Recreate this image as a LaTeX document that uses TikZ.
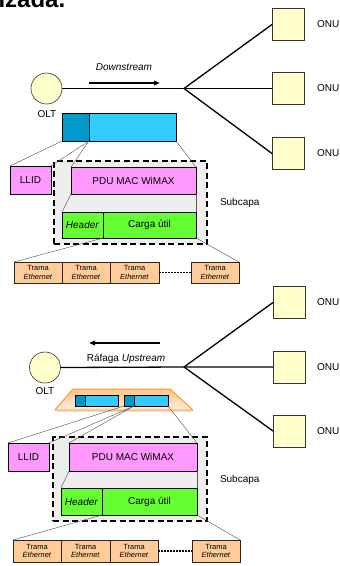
\documentclass[tikz,border=0pt]{standalone}
\usepackage{fontspec}
\setmainfont{Liberation Sans}
\usetikzlibrary{arrows.meta,calc}
\definecolor{unitfill}{HTML}{FFFFCC}
\definecolor{darkblue}{HTML}{0099CC}
\definecolor{lightblue}{HTML}{33CCFF}
\definecolor{pinkbox}{HTML}{FF99FF}
\definecolor{greenbox}{HTML}{66FF33}
\definecolor{tramafill}{HTML}{FFCC99}
\definecolor{subfill}{HTML}{EEEEEE}
\definecolor{burstedge}{HTML}{FF9933}
\tikzset{
  every node/.style={inner sep=0pt, outer sep=0pt, font=\fontsize{10}{12}\selectfont},
  fiber/.style={line width=1.3pt, black},
  oltnode/.style={circle, draw=black!80, line width=0.6pt, fill=unitfill, minimum size=31pt},
  onunode/.style={rectangle, draw=black!80, line width=0.6pt, fill=unitfill, minimum width=32pt, minimum height=32pt},
  lbl/.style={anchor=west},
  flowarrow/.style={line width=1.6pt, -{Triangle[length=6pt,width=4.5pt]}},
  frameA/.style={rectangle, draw=black, line width=0.6pt, fill=darkblue},
  frameB/.style={rectangle, draw=black, line width=0.6pt, fill=lightblue},
  llidbox/.style={rectangle, draw=black, line width=0.6pt, fill=pinkbox, minimum width=41pt, minimum height=28pt},
  pdubox/.style={rectangle, draw=black, line width=0.6pt, fill=pinkbox, minimum height=27pt},
  greenpart/.style={rectangle, draw=black, line width=0.6pt, fill=greenbox, minimum height=26pt},
  sublayer/.style={rectangle, draw=black, fill=subfill, line width=1.7pt, dash pattern=on 6pt off 3.5pt},
  tramabox/.style={rectangle, draw=black!85, line width=0.6pt, fill=tramafill, minimum width=48pt, minimum height=21pt,
    align=center, font=\fontsize{7.5}{8.5}\selectfont},
  zoomline/.style={draw=black!65, line width=0.45pt},
  gapline/.style={line width=1.6pt, dash pattern=on 2pt off 1pt},
}
\begin{document}
\begin{tikzpicture}[x=1pt, y=-1pt]
\useasboundingbox (0,0) rectangle (340,566);
\clip (0,0) rectangle (340,566);

% heading fragment at the top edge
\node[anchor=base west, font=\fontsize{24}{28}\selectfont\bfseries] (heading) at (-1.5,7) {izada.};

%% ---------------- Downstream ----------------
\node[oltnode] (olt1) at (46.5,88.5) {};
\node (olt1l) at (47,114) {OLT};
\node[onunode] (onu1a) at (288,24.5) {};
\node[onunode] (onu1b) at (288,88.5) {};
\node[onunode] (onu1c) at (288,153.5) {};
\node[lbl] (onu1al) at (317,24) {ONU};
\node[lbl] (onu1bl) at (317,88.5) {ONU};
\node[lbl] (onu1cl) at (317,153) {ONU};
\coordinate (s1) at (184,88.5);
\draw[fiber] (olt1.east) -- (s1) -- (onu1b.west);
\draw[fiber] (s1) -- (onu1a.west);
\draw[fiber] (s1) -- (onu1c.west);
\node (down) at (124,67) {\textit{Downstream}};
\coordinate (d1) at (89,83);
\coordinate (d2) at (160,83);
\draw[flowarrow] (d1) -- (d2);

% broadcast frame
\node[frameA, minimum width=27pt, minimum height=28pt] (fa1) at (75.5,127) {};
\node[frameB, minimum width=87pt, minimum height=28pt] (fb1) at (132.5,127) {};

% sublayer
\node[sublayer, minimum width=153pt, minimum height=83pt] (sub1) at (130.5,202.5) {};
\node[lbl] (sub1l) at (220,203) {Subcapa};
\node[llidbox] (llid1) at (30.5,180) {LLID};
\node[pdubox, minimum width=125pt] (pdu1) at (133.5,180.5) {PDU MAC WiMAX};
\node[greenpart, minimum width=41pt] (hd1) at (82.5,225) {\textit{Header}};
\node[greenpart, minimum width=93pt] (cu1) at (149.5,225) {Carga útil};

% ethernet frames
\node[tramabox] (t1a) at (38,272.5) {Trama\\\textit{Ethernet}};
\node[tramabox] (t1b) at (86,272.5) {Trama\\\textit{Ethernet}};
\node[tramabox, minimum width=49pt] (t1c) at (134.5,272.5) {Trama\\\textit{Ethernet}};
\node[tramabox] (t1d) at (215,272.5) {Trama\\\textit{Ethernet}};
\draw[gapline] (t1c.east) -- (t1d.west);

% zoom guides
\draw[zoomline] (fa1.south west) -- (llid1.north west);
\draw[zoomline] (fa1.south east) -- (llid1.north east);
\draw[zoomline] (fa1.south east) -- (pdu1.north west);
\draw[zoomline] (fb1.south east) -- (pdu1.north east);
\draw[zoomline] (pdu1.south west) -- (hd1.north west);
\draw[zoomline] (pdu1.south east) -- (cu1.north east);
\draw[zoomline] (hd1.south east) -- (t1a.north west);
\draw[zoomline] (cu1.south east) -- (t1d.north east);

%% ---------------- Upstream ----------------
\node[oltnode] (olt2) at (45,367.5) {};
\node (olt2l) at (45,391) {OLT};
\node[onunode] (onu2a) at (289,302.5) {};
\node[onunode] (onu2b) at (289,367) {};
\node[onunode] (onu2c) at (289,431) {};
\node[lbl] (onu2al) at (317,302) {ONU};
\node[lbl] (onu2bl) at (317,367) {ONU};
\node[lbl] (onu2cl) at (317,431) {ONU};
\coordinate (s2) at (184,367);
\draw[fiber] (olt2.east) -- (s2) -- (onu2b.west);
\draw[fiber] (s2) -- (onu2a.west);
\draw[fiber] (s2) -- (onu2c.west);
\node (up) at (126,359) {Ráfaga \textit{Upstream}};
\coordinate (u1) at (160,343);
\coordinate (u2) at (89,343);
\draw[flowarrow] (u1) -- (u2);

% burst carrier
\coordinate (bt1) at (73,389);
\coordinate (bt2) at (170,389);
\coordinate (bt3) at (193,410);
\coordinate (bt4) at (55,410);
\fill[black!12] ($(bt4)+(2,1)$) -- ($(bt3)+(-2,1)$) -- ($(bt3)+(-2,2)$) -- ($(bt4)+(2,2)$) -- cycle;
\shade[top color=tramafill!90!orange, bottom color=tramafill!35] (bt1) -- (bt2) -- (bt3) -- (bt4) -- cycle;
\draw[burstedge, line width=1pt, line join=round] (bt1) -- (bt2) -- (bt3) -- (bt4) -- cycle;

% upstream frames
\node[frameA, minimum width=10pt, minimum height=11pt] (fa2) at (80,400.5) {};
\node[frameB, minimum width=33pt, minimum height=11pt] (fb2) at (101.5,400.5) {};
\node[frameA, minimum width=10pt, minimum height=11pt] (fa3) at (129,400.5) {};
\node[frameB, minimum width=34pt, minimum height=11pt] (fb3) at (151,400.5) {};

% sublayer
\node[sublayer, minimum width=154pt, minimum height=84pt] (sub2) at (130,479) {};
\node[lbl] (sub2l) at (220,480) {Subcapa};
\node[llidbox] (llid2) at (28.5,457) {LLID};
\node[pdubox, minimum width=128pt, minimum height=28pt] (pdu2) at (133,457) {PDU MAC WiMAX};
\node[greenpart, minimum width=41pt, minimum height=27pt] (hd2) at (81.5,501.5) {\textit{Header}};
\node[greenpart, minimum width=95pt, minimum height=27pt] (cu2) at (149.5,501.5) {Carga útil};

% ethernet frames
\node[tramabox, minimum height=22pt] (t2a) at (37,551) {Trama\\\textit{Ethernet}};
\node[tramabox, minimum height=22pt, minimum width=49pt] (t2b) at (85.5,551) {Trama\\\textit{Ethernet}};
\node[tramabox, minimum height=22pt] (t2c) at (134,551) {Trama\\\textit{Ethernet}};
\node[tramabox, minimum height=22pt] (t2d) at (216,551) {Trama\\\textit{Ethernet}};
\draw[gapline] (t2c.east) -- (t2d.west);

% zoom guides
\draw[zoomline] (fa3.south west) -- (llid2.north west);
\draw[zoomline] (fa3.south east) -- (llid2.north east);
\draw[zoomline] (fa3.south east) -- (pdu2.north west);
\draw[zoomline] (fb3.south east) -- (pdu2.north east);
\draw[zoomline] (pdu2.south west) -- (hd2.north west);
\draw[zoomline] (pdu2.south east) -- (cu2.north east);
\draw[zoomline] (hd2.south east) -- (t2a.north west);
\draw[zoomline] (cu2.south east) -- (t2d.north east);
\end{tikzpicture}
\end{document}
